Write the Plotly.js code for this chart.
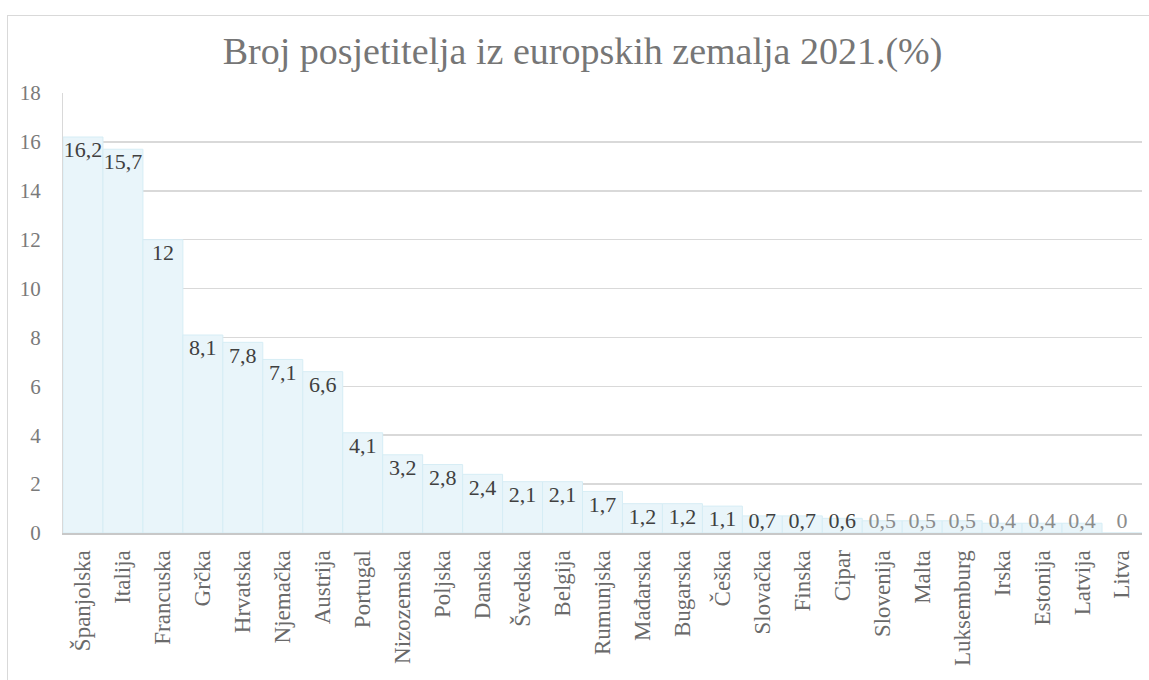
<!DOCTYPE html>
<html>
<head>
<meta charset="utf-8">
<script src="https://cdn.plot.ly/plotly-3.0.1.min.js"></script>
<style>
  html, body { margin: 0; padding: 0; background: #ffffff; }
  #frame { position: absolute; left: 7px; top: 15px; width: 1150px; height: 680px; border: 1px solid #d9d9d9; box-sizing: border-box; }
  #chart { position: absolute; left: 0; top: 0; width: 1149px; height: 680px; }
</style>
</head>
<body>
<div id="frame"></div>
<div id="chart"></div>
<script>
const countries = ["Španjolska","Italija","Francuska","Grčka","Hrvatska","Njemačka","Austrija","Portugal","Nizozemska","Poljska","Danska","Švedska","Belgija","Rumunjska","Mađarska","Bugarska","Češka","Slovačka","Finska","Cipar","Slovenija","Malta","Luksemburg","Irska","Estonija","Latvija","Litva"];
const shares = [16.2,15.7,12,8.1,7.8,7.1,6.6,4.1,3.2,2.8,2.4,2.1,2.1,1.7,1.2,1.2,1.1,0.7,0.7,0.6,0.5,0.5,0.5,0.4,0.4,0.4,0];
const chartTitle = "Broj posjetitelja iz europskih zemalja 2021.(%)";

const fontName = "Liberation Serif";
const labelTexts = shares.map(v => String(v).replace('.', ','));
const labelY = shares.map(v => Math.max(v - 0.15, 0.9));
const labelColors = shares.map(v => v >= 0.6 ? "#404040" : "#8c8c8c");

const bars = {
  type: "bar",
  x: countries,
  y: shares,
  marker: { color: "#e9f5fa", line: { color: "#d6edf5", width: 1 } },
  hoverinfo: "x+y",
  showlegend: false
};
const labels = {
  type: "scatter",
  mode: "text",
  x: countries,
  y: labelY,
  text: labelTexts,
  textposition: "bottom center",
  textfont: { family: fontName, size: 22, color: labelColors },
  hoverinfo: "skip",
  cliponaxis: false,
  showlegend: false
};

const layout = {
  width: 1149, height: 680,
  margin: { l: 63, r: 7, t: 93, b: 147 },
  paper_bgcolor: "rgba(0,0,0,0)",
  plot_bgcolor: "rgba(0,0,0,0)",
  font: { family: fontName },
  bargap: 0,
  title: { text: chartTitle, font: { family: fontName, size: 38, color: "#767676" }, x: 0.507, xanchor: "center", y: 0.926, yanchor: "middle" },
  xaxis: {
    type: "category",
    range: [-0.5, countries.length - 0.5],
    autorange: false,
    tickangle: -90,
    tickfont: { family: fontName, size: 23, color: "#6a6a6a" },
    showline: true, linecolor: "#c8c8c8", linewidth: 2,
    showgrid: false, ticks: "", ticklabelstandoff: 6
  },
  yaxis: {
    range: [0, 18], dtick: 2, autorange: false,
    tickfont: { family: fontName, size: 21, color: "#7a7a7a" },
    gridcolor: "#d9d9d9", gridwidth: 1.5,
    zeroline: false,
    showline: true, linecolor: "#d9d9d9", linewidth: 1,
    ticks: "", ticklabelstandoff: 17
  }
};

Plotly.newPlot("chart", [bars, labels], layout, { displayModeBar: false, staticPlot: true });
</script>
</body>
</html>
